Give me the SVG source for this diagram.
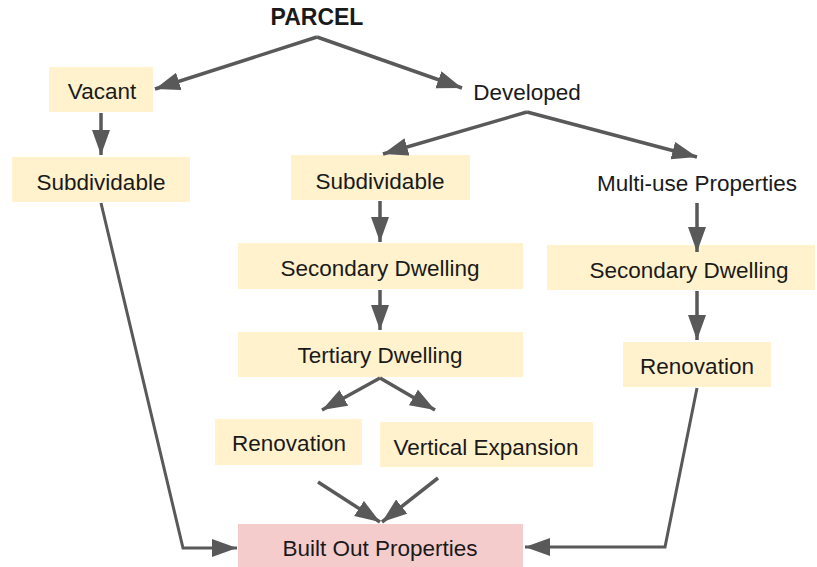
<svg xmlns="http://www.w3.org/2000/svg" width="817" height="567" viewBox="0 0 817 567">
<defs>
<style>
.box{fill:#fff2cc}
.pink{fill:#f4cccc}
text{font-family:"Liberation Sans",Arial,sans-serif;font-size:22.5px;fill:#1a1a1a;text-anchor:middle;dominant-baseline:central}
.bold{font-weight:bold;font-size:23px}
.c{fill:none;stroke:#595959;stroke-width:3.5;stroke-linejoin:miter}
.t{stroke-width:3}
</style>
<marker id="ah" markerUnits="userSpaceOnUse" markerWidth="26" markerHeight="19" refX="25" refY="9" orient="auto" viewBox="0 0 26 19">
<path d="M0,0 L25,9 L0,18 z" fill="#595959"/>
</marker>
</defs>
<rect width="817" height="567" fill="#ffffff"/>
<g id="parcel"><text class="bold" x="317" y="17">PARCEL</text></g>
<g id="vacant"><rect class="box" x="49" y="67" width="104" height="45"/><text x="102" y="91">Vacant</text></g>
<g id="subdividable-left"><rect class="box" x="12" y="157" width="178" height="45"/><text x="101" y="182">Subdividable</text></g>
<g id="developed"><text x="527" y="92">Developed</text></g>
<g id="subdividable-mid"><rect class="box" x="291" y="155" width="179" height="45"/><text x="380" y="181">Subdividable</text></g>
<g id="multi-use"><text x="697" y="183">Multi-use Properties</text></g>
<g id="secondary-mid"><rect class="box" x="238" y="243" width="285" height="46"/><text x="380" y="268">Secondary Dwelling</text></g>
<g id="secondary-right"><rect class="box" x="547" y="245" width="268" height="45"/><text x="689" y="270">Secondary Dwelling</text></g>
<g id="tertiary"><rect class="box" x="238" y="332" width="285" height="45"/><text x="380" y="355">Tertiary Dwelling</text></g>
<g id="renovation-mid"><rect class="box" x="215" y="419" width="147" height="46"/><text x="289" y="443">Renovation</text></g>
<g id="vertical"><rect class="box" x="380" y="422" width="213" height="45"/><text x="486" y="447">Vertical Expansion</text></g>
<g id="renovation-right"><rect class="box" x="623" y="342" width="148" height="45"/><text x="697" y="366">Renovation</text></g>
<g id="built-out"><rect class="pink" x="238" y="524" width="285" height="43"/><text x="380" y="548">Built Out Properties</text></g>
<g id="connectors">
<path class="c" d="M317,37 L155,89" marker-end="url(#ah)"/>
<path class="c" d="M317,37 L462,88" marker-end="url(#ah)"/>
<path class="c" d="M101,113 L101,155" marker-end="url(#ah)"/>
<path class="c" d="M527,112 L383,154" marker-end="url(#ah)"/>
<path class="c" d="M527,112 L697,157" marker-end="url(#ah)"/>
<path class="c" d="M380,201 L380,242" marker-end="url(#ah)"/>
<path class="c" d="M697,203 L697,252" marker-end="url(#ah)"/>
<path class="c" d="M380,290 L380,330" marker-end="url(#ah)"/>
<path class="c" d="M697,291 L697,340" marker-end="url(#ah)"/>
<path class="c" d="M380,378 L322,410" marker-end="url(#ah)"/>
<path class="c" d="M380,378 L435,410" marker-end="url(#ah)"/>
<path class="c" d="M318,482 L380,522" marker-end="url(#ah)"/>
<path class="c" d="M438,478 L382,522" marker-end="url(#ah)"/>
<path class="c t" d="M101,203 L183,548 L237,548" marker-end="url(#ah)"/>
<path class="c t" d="M697,388 L665,547 L525,547" marker-end="url(#ah)"/>
</g>
</svg>
